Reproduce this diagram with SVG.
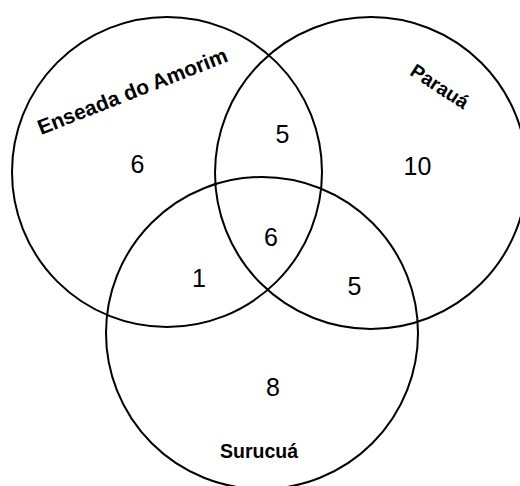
<svg xmlns="http://www.w3.org/2000/svg" width="520" height="486" viewBox="0 0 520 486">
<style>
.c{fill:none;stroke:#000;stroke-width:2}
.n{font-family:"Liberation Sans",Arial,sans-serif;font-size:25px;fill:#000;text-anchor:middle}
.l{font-family:"Liberation Sans",Arial,sans-serif;font-weight:bold;font-size:19.5px;fill:#000;text-anchor:middle}
</style>
<rect width="520" height="486" fill="#fff"/>
<g id="sets">
<g id="enseada"><circle class="c" cx="167" cy="172" r="155"/></g>
<g id="paraua"><circle class="c" cx="371" cy="173" r="156"/></g>
<g id="surucua"><circle class="c" cx="262" cy="333" r="156"/></g>
</g>
<g id="labels">
<text class="l" transform="translate(135,98) rotate(-21.5)" style="font-size:21px">Enseada do Amorim</text>
<text class="l" transform="translate(436,92) rotate(33)">Parauá</text>
<text class="l" x="259" y="458">Surucuá</text>
</g>
<g id="counts">
<text class="n" x="137.5" y="173">6</text>
<text class="n" x="282.5" y="143">5</text>
<text class="n" x="417.5" y="175">10</text>
<text class="n" x="271" y="246">6</text>
<text class="n" x="199" y="287">1</text>
<text class="n" x="354.5" y="295">5</text>
<text class="n" x="273" y="396">8</text>
</g>
</svg>
